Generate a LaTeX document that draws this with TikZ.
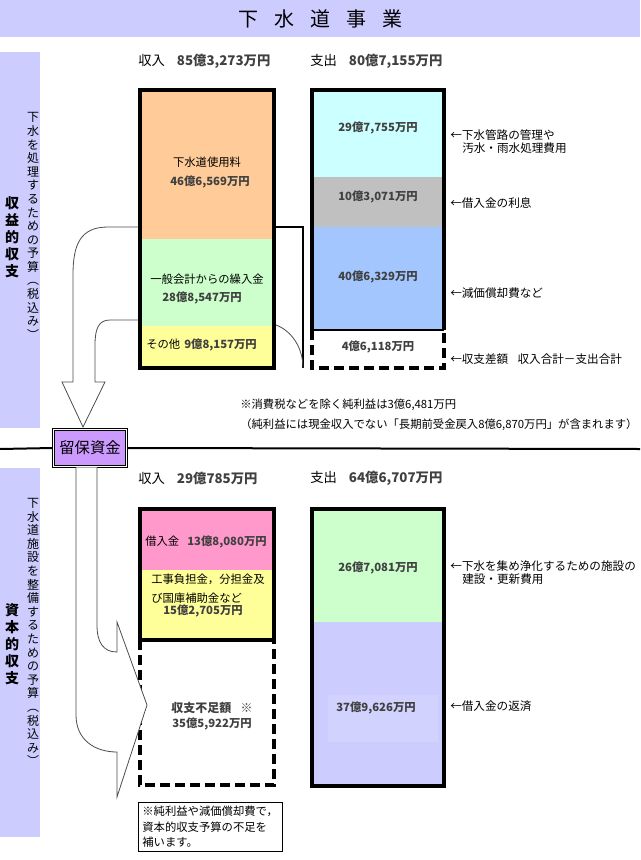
\documentclass[tikz,border=0pt]{standalone}
\usepackage{fontspec}
\setmainfont{Noto Sans CJK JP}
\usepackage{tikz}

\definecolor{bandblue}{HTML}{CCCCFF}
\definecolor{feeorange}{HTML}{FFCC99}
\definecolor{mintgreen}{HTML}{CCFFCC}
\definecolor{paleyellow}{HTML}{FFFF99}
\definecolor{palecyan}{HTML}{CCFFFF}
\definecolor{midgray}{HTML}{C0C0C0}
\definecolor{skyblue}{HTML}{A4C6FF}
\definecolor{loanpink}{HTML}{FF99CC}
\definecolor{reservepurple}{HTML}{CC99FF}
\definecolor{numgray}{HTML}{404040}

\tikzset{
  barline/.style={line width=3pt},
  gapline/.style={line width=3pt, dash pattern=on 7.5pt off 3.75pt},
  amount/.style={font=\fontsize{8.5}{10}\selectfont\bfseries, text=numgray, inner sep=0pt},
  item/.style={font=\fontsize{8.5}{10}\selectfont, inner sep=0pt},
  header/.style={font=\fontsize{10}{12}\selectfont, anchor=west, inner sep=0pt},
  sidenote/.style={font=\fontsize{8.7}{10}\selectfont, anchor=west, inner sep=0pt},
  sidesmall/.style={font=\fontsize{9}{10.2}\selectfont, align=center, inner sep=0pt},
  sidebold/.style={font=\fontsize{10.5}{12.8}\selectfont\bfseries, align=center, inner sep=0pt},
  flowline/.style={draw=black!70, line width=0.6pt},
}

\begin{document}
\begin{tikzpicture}[x=0.75pt,y=-0.75pt]
\useasboundingbox (0,0) rectangle (640,860);

% title band
\fill[bandblue] (0,0) rectangle (640,37);
\node[font=\fontsize{15}{18}\selectfont] (title) at (320,19)
  {下\hspace{12pt}水\hspace{12pt}道\hspace{12pt}事\hspace{12pt}業};

% side bands
\fill[bandblue] (0,52) rectangle (40,428);
\fill[bandblue] (0,468) rectangle (40,837);
\node[sidebold] (profitside) at (12,237) {収\\益\\的\\収\\支};
\node[sidesmall] (profitsub) at (33,226)
  {下\\水\\を\\処\\理\\す\\る\\た\\め\\の\\予\\算\\︵\\税\\込\\み\\︶};
\node[sidebold] (capitalside) at (12,644) {資\\本\\的\\収\\支};
\node[sidesmall] (capitalsub) at (33,632)
  {下\\水\\道\\施\\設\\を\\整\\備\\す\\る\\た\\め\\の\\予\\算\\︵\\税\\込\\み\\︶};

% headers
\node[header] (inA) at (138,61) {収入\hspace{9pt}{\bfseries\color{numgray}85億3,273万円}};
\node[header] (outA) at (310,61) {支出\hspace{9pt}{\bfseries\color{numgray}80億7,155万円}};
\node[header] (inB) at (138,478) {収入\hspace{9pt}{\bfseries\color{numgray}29億785万円}};
\node[header] (outB) at (310,478) {支出\hspace{9pt}{\bfseries\color{numgray}64億6,707万円}};

% profit and loss: income bar
\fill[feeorange] (140,90) rectangle (274,239);
\fill[mintgreen] (140,239) rectangle (274,326);
\fill[paleyellow] (140,326) rectangle (274,368);
\draw[barline] (140,90) rectangle (274,368);
\node[item] (fee) at (207,162) {下水道使用料};
\node[amount] (feeval) at (210,182) {46億6,569万円};
\node[item] (transfer) at (207,279) {一般会計からの繰入金};
\node[amount] (transferval) at (202,298) {28億8,547万円};
\node[item, anchor=west] (other) at (146,345) {その他\hspace{3pt}{\bfseries\color{numgray}9億8,157万円}};

% profit and loss: expense bar
\fill[palecyan] (312,90) rectangle (444,177);
\fill[midgray] (312,177) rectangle (444,227);
\fill[skyblue] (312,227) rectangle (444,330);
\draw[barline] (312,330) -- (312,90) -- (444,90) -- (444,330);
\draw[line width=0.8pt] (312,330) -- (444,330);
\draw[gapline] (312,330) -- (312,368) -- (444,368) -- (444,330);
\node[amount] (upkeep) at (378,128) {29億7,755万円};
\node[amount] (interest) at (378,197) {10億3,071万円};
\node[amount] (deprec) at (378,277) {40億6,329万円};
\node[amount] (balance) at (378,347) {4億6,118万円};

\node[sidenote] (upkeepnote) at (450,135) {←下水管路の管理や};
\node[sidenote] (upkeepnote2) at (462,148) {汚水・雨水処理費用};
\node[sidenote] (interestnote) at (450,203) {←借入金の利息};
\node[sidenote] (deprecnote) at (450,293) {←減価償却費など};
\node[sidenote] (balancenote) at (450,359) {←収支差額\hspace{7pt}収入合計－支出合計};

% bracket to the balance
\draw[line width=1.2pt] (276,227) -- (303,227) -- (303,368);
\draw[flowline] (276,325) .. controls (292,331) and (303,348) .. (303,368);

% arrow into the reserve
\draw[flowline] (138,227) -- (108,227) .. controls (80,227) and (73,245) .. (73,275)
  -- (73,382) -- (62,382) -- (83,427) -- (105,382) -- (95,382) -- (95,345)
  .. controls (95,328) and (99,320) .. (110,320) -- (138,320);

\node[sidenote, font=\fontsize{8.5}{10}\selectfont] (netnote) at (240,405)
  {※消費税などを除く純利益は3億6,481万円};
\node[sidenote, font=\fontsize{8.5}{10}\selectfont] (netnote2) at (240,425)
  {（純利益には現金収入でない「長期前受金戻入8億6,870万円」が含まれます）};

% reserve funds
\node[draw=black, line width=1pt, double=white, double distance=0.7pt, fill=reservepurple,
  minimum width=55pt, minimum height=28pt, inner sep=0pt,
  font=\fontsize{11.5}{13}\selectfont] (reserve) at (90,448) {留保資金};
\draw[line width=1.5pt] (0,449) -- (reserve.west);
\draw[line width=1.5pt] (reserve.east) -- (640,449);

% capital: income bar
\fill[loanpink] (140,509) rectangle (274,570);
\fill[paleyellow] (140,570) rectangle (274,640);
\draw[barline] (140,509) rectangle (274,640);
\draw[gapline] (140,640) -- (140,785) -- (274,785) -- (274,640);
\node[item] (loan) at (206,542) {借入金\hspace{6pt}{\bfseries\color{numgray}13億8,080万円}};
\node[item, anchor=west, align=left, font=\fontsize{8.5}{14}\selectfont] (subsidy) at (151,589)
  {工事負担金，分担金及\\び国庫補助金など};
\node[amount] (subsidyval) at (203,611) {15億2,705万円};
\node[amount, font=\fontsize{9}{10}\selectfont\bfseries] (shortage) at (212,708) {収支不足額\hspace{7pt}※};
\node[amount] (shortageval) at (212,724) {35億5,922万円};

% capital: expense bar
\fill[mintgreen] (312,509) rectangle (444,622);
\fill[bandblue] (312,622) rectangle (444,786);
\fill[bandblue!88!white] (328,695) rectangle (438,742);
\draw[barline] (312,509) rectangle (444,786);
\node[amount] (plant) at (378,568) {26億7,081万円};
\node[amount] (repay) at (376,708) {37億9,626万円};

\node[sidenote] (plantnote) at (450,566) {←下水を集め浄化するための施設の};
\node[sidenote] (plantnote2) at (462,579) {建設・更新費用};
\node[sidenote] (repaynote) at (450,706) {←借入金の返済};

% arrow from the reserve to the shortage
\draw[flowline, fill=white] (reserve.south -| 76,0) -- (76,715)
  .. controls (76,740) and (95,752) .. (117,752) -- (117,797) -- (147,705)
  -- (117,622) -- (117,652) .. controls (103,652) and (97,642) .. (97,625)
  -- (reserve.south -| 97,0);

\node[draw=black, line width=0.6pt, anchor=north west, align=left, inner sep=3pt,
  font=\fontsize{8.5}{11.5}\selectfont] (covernote) at (138,802)
  {※純利益や減価償却費で，\\資本的収支予算の不足を\\補います。};

\end{tikzpicture}
\end{document}
